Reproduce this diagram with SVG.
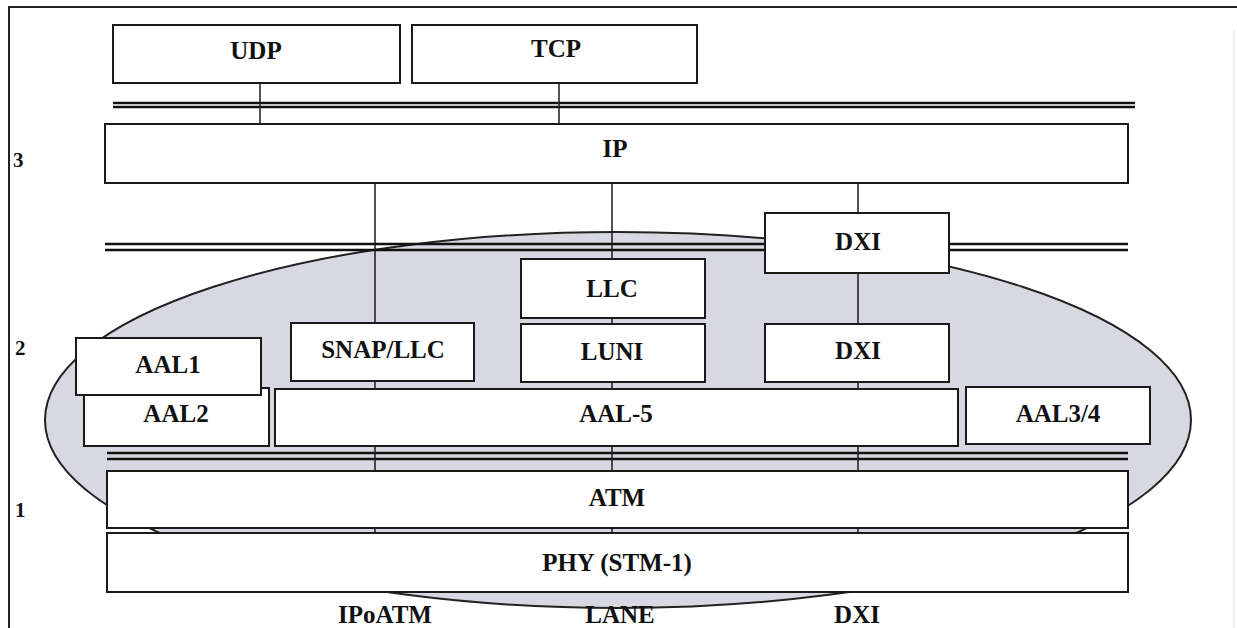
<svg xmlns="http://www.w3.org/2000/svg" width="1237" height="628" viewBox="0 0 1237 628">
<style>
.box{fill:#fff;stroke:#1a1a1a;stroke-width:2}
.lbl{font-family:"Liberation Serif","Times New Roman",serif;font-weight:bold;font-size:25px;fill:#111;text-anchor:middle}
.num{font-family:"Liberation Serif","Times New Roman",serif;font-weight:bold;font-size:21px;fill:#111}
.con{stroke:#1a1a1a;stroke-width:1.5;fill:none}
.dbl{stroke:#111;stroke-width:2.5;fill:none}
</style>
<rect x="0" y="0" width="1237" height="628" fill="#fff"/>
<g id="frame">
<path d="M9,628 V7 H1237" fill="none" stroke="#222" stroke-width="2"/>
<line x1="1234" y1="30" x2="1234" y2="628" stroke="#ddd" stroke-width="1"/>
</g>
<g id="ellipse">
<ellipse cx="618" cy="420" rx="573" ry="188" fill="#d8d8e2" stroke="#222" stroke-width="2"/>
</g>
<g id="bars">
<line class="dbl" x1="113" y1="103" x2="1135" y2="103"/>
<line class="dbl" x1="113" y1="107" x2="1135" y2="107"/>
<line class="dbl" x1="105" y1="244" x2="1128" y2="244"/>
<line class="dbl" x1="105" y1="250" x2="1128" y2="250"/>
<line class="dbl" x1="107" y1="453" x2="1128" y2="453"/>
<line class="dbl" x1="107" y1="459" x2="1128" y2="459"/>
</g>
<g id="connectors">
<line class="con" x1="260" y1="83" x2="260" y2="124"/>
<line class="con" x1="559" y1="83" x2="559" y2="124"/>
<line class="con" x1="375" y1="183" x2="375" y2="323"/>
<line class="con" x1="612" y1="183" x2="612" y2="259"/>
<line class="con" x1="858" y1="183" x2="858" y2="213"/>
<line class="con" x1="858" y1="273" x2="858" y2="324"/>
<line class="con" x1="612" y1="318" x2="612" y2="324"/>
<line class="con" x1="375" y1="381" x2="375" y2="389"/>
<line class="con" x1="612" y1="382" x2="612" y2="389"/>
<line class="con" x1="858" y1="382" x2="858" y2="389"/>
<line class="con" x1="375" y1="446" x2="375" y2="471"/>
<line class="con" x1="612" y1="446" x2="612" y2="471"/>
<line class="con" x1="858" y1="446" x2="858" y2="471"/>
<line class="con" x1="375" y1="528" x2="375" y2="533"/>
<line class="con" x1="612" y1="528" x2="612" y2="533"/>
<line class="con" x1="858" y1="528" x2="858" y2="533"/>
</g>
<g id="udp"><rect class="box" x="113" y="25" width="287" height="58"/><text class="lbl" x="256" y="59">UDP</text></g>
<g id="tcp"><rect class="box" x="412" y="25" width="285" height="58"/><text class="lbl" x="556" y="57">TCP</text></g>
<g id="ip"><rect class="box" x="105" y="124" width="1023" height="59"/><text class="lbl" x="615" y="157">IP</text></g>
<g id="dxi-top"><rect class="box" x="765" y="213" width="184" height="60"/><text class="lbl" x="858" y="250">DXI</text></g>
<g id="llc"><rect class="box" x="521" y="259" width="184" height="59"/><text class="lbl" x="612" y="297">LLC</text></g>
<g id="luni"><rect class="box" x="521" y="324" width="184" height="58"/><text class="lbl" x="612" y="360">LUNI</text></g>
<g id="snap-llc"><rect class="box" x="291" y="323" width="183" height="58"/><text class="lbl" x="383" y="358">SNAP/LLC</text></g>
<g id="dxi-mid"><rect class="box" x="765" y="324" width="184" height="58"/><text class="lbl" x="858" y="359">DXI</text></g>
<g id="aal2"><rect class="box" x="84" y="388" width="185" height="58"/><text class="lbl" x="176" y="422">AAL2</text></g>
<g id="aal1"><rect class="box" x="76" y="338" width="185" height="57"/><text class="lbl" x="168" y="373">AAL1</text></g>
<g id="aal5"><rect class="box" x="275" y="389" width="683" height="57"/><text class="lbl" x="616" y="422">AAL-5</text></g>
<g id="aal34"><rect class="box" x="966" y="387" width="184" height="57"/><text class="lbl" x="1058" y="422">AAL3/4</text></g>
<g id="atm"><rect class="box" x="107" y="471" width="1021" height="57"/><text class="lbl" x="617" y="506">ATM</text></g>
<g id="phy"><rect class="box" x="107" y="533" width="1021" height="59"/><text class="lbl" x="617" y="571">PHY (STM-1)</text></g>
<g id="layers">
<text class="num" x="13" y="167">3</text>
<text class="num" x="15" y="355">2</text>
<text class="num" x="15" y="517">1</text>
</g>
<g id="bottom-labels">
<text class="lbl" x="385" y="623">IPoATM</text>
<text class="lbl" x="620" y="623">LANE</text>
<text class="lbl" x="857" y="623">DXI</text>
</g>
</svg>
